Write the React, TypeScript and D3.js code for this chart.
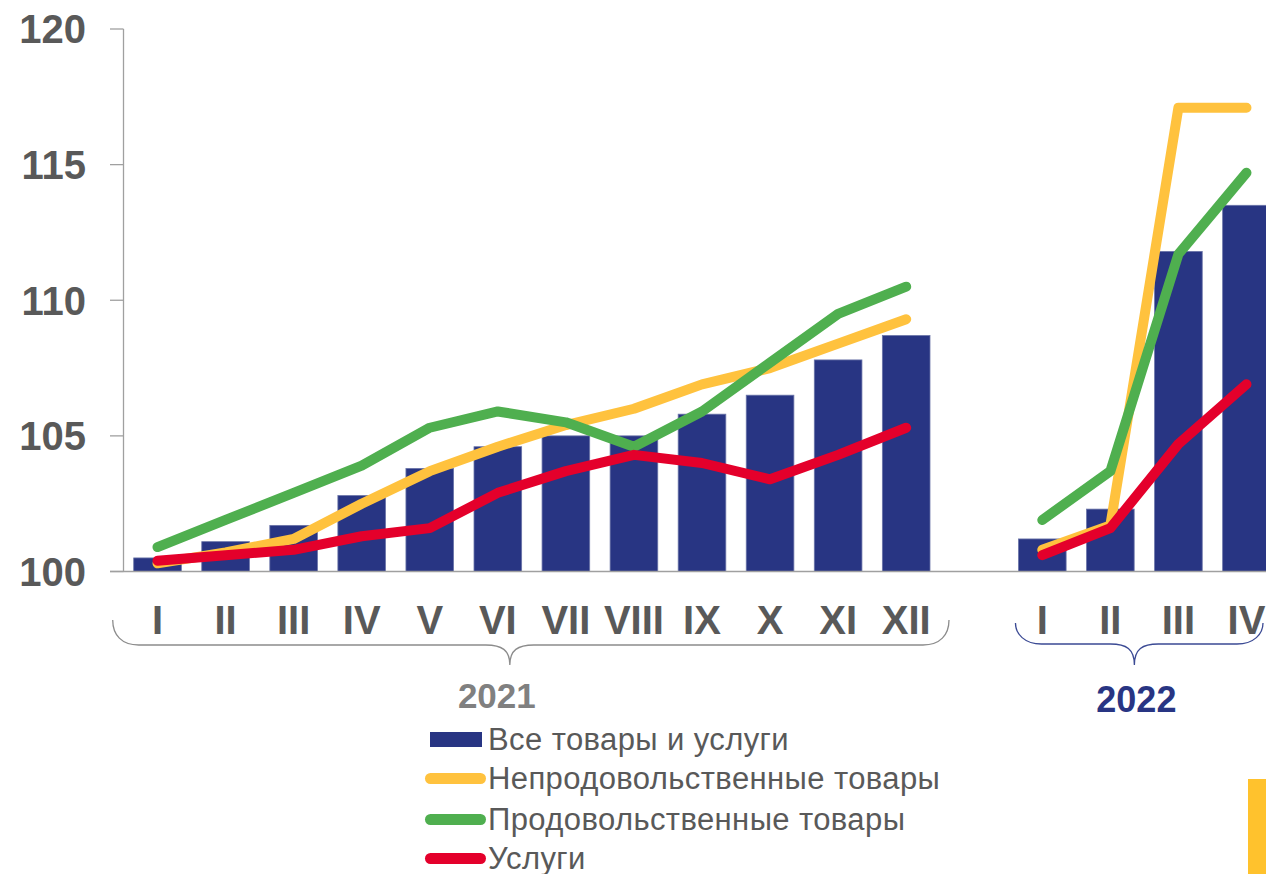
import React from "react";
import * as d3 from "d3";

// months (roman numerals) per year
const months2021 = ["I", "II", "III", "IV", "V", "VI", "VII", "VIII", "IX", "X", "XI", "XII"];
const months2022 = ["I", "II", "III", "IV"];

// index values, same month of previous year = 100
const allGoods2021 = [100.5, 101.1, 101.7, 102.8, 103.8, 104.6, 105.0, 105.0, 105.8, 106.5, 107.8, 108.7];
const allGoods2022 = [101.2, 102.3, 111.8, 113.5];
const nonFood2021 = [100.3, 100.7, 101.2, 102.5, 103.7, 104.6, 105.4, 106.0, 106.9, 107.5, 108.4, 109.3];
const nonFood2022 = [100.8, 101.7, 117.1, 117.1];
const food2021 = [100.9, 101.9, 102.9, 103.9, 105.3, 105.9, 105.5, 104.6, 105.9, 107.7, 109.5, 110.5];
const food2022 = [101.9, 103.7, 111.7, 114.7];
const services2021 = [100.4, 100.6, 100.8, 101.3, 101.6, 102.9, 103.7, 104.3, 104.0, 103.4, 104.3, 105.3];
const services2022 = [100.6, 101.6, 104.7, 106.9];

const yTicks = [100, 105, 110, 115, 120];
const years = ["2021", "2022"];
const legendLabels = [
  "Все товары и услуги",
  "Непродовольственные товары",
  "Продовольственные товары",
  "Услуги",
];

const NAVY = "#283583";
const YELLOW = "#FFC23E";
const GREEN = "#4FAF4F";
const RED = "#E4002B";
const GRAY = "#595959";
const FONT = "'Liberation Sans', Arial, sans-serif";

const keys2021 = months2021.map((m) => "2021-" + m);
const keys2022 = months2022.map((m) => "2022-" + m);
const domain = [...keys2021, "gap", ...keys2022];

export default function App() {
  const x = d3.scaleBand<string>().domain(domain).range([123.5, 1280.5]).paddingInner(0.3).paddingOuter(0.15);
  const y = d3.scaleLinear().domain([100, 120]).range([571.5, 29]);
  const cx = (k: string) => (x(k) ?? 0) + x.bandwidth() / 2;

  const line = d3
    .line<[string, number]>()
    .x((d) => cx(d[0]))
    .y((d) => y(d[1]));

  const zip = (ks: string[], vs: number[]) => ks.map((k, i) => [k, vs[i]] as [string, number]);

  const bars = [...zip(keys2021, allGoods2021), ...zip(keys2022, allGoods2022)];
  const series = [
    { color: YELLOW, parts: [zip(keys2021, nonFood2021), zip(keys2022, nonFood2022)] },
    { color: GREEN, parts: [zip(keys2021, food2021), zip(keys2022, food2022)] },
    { color: RED, parts: [zip(keys2021, services2021), zip(keys2022, services2022)] },
  ];

  // curly braces under each year
  const brace = (x0: number, x1: number, m: number, top: number, mid: number, tip: number) =>
    `M${x0},${top} C${x0},${mid - 10} ${x0 + 9},${mid} ${x0 + 26},${mid} L${m - 24},${mid} C${m - 8},${mid} ${m},${mid + 5} ${m},${tip} C${m},${mid + 5} ${m + 8},${mid} ${m + 24},${mid} L${x1 - 26},${mid} C${x1 - 9},${mid} ${x1},${mid - 10} ${x1},${top}`;
  const b21x0 = (x(keys2021[0]) ?? 0) - 21;
  const b21x1 = (x(keys2021[11]) ?? 0) + x.bandwidth() + 19;
  const b21m = cx(keys2021[5]) + 12;
  const b22x0 = (x(keys2022[0]) ?? 0) - 3;
  const b22x1 = 1263;
  const b22m = (cx(keys2022[1]) + cx(keys2022[2])) / 2 - 10;

  const legendY = [750, 788.5, 829.5, 868.5];

  return (
    <svg
      width={1266}
      height={874}
      style={{ position: "absolute", left: 0, top: 0, background: "#fff" }}
      fontFamily={FONT}
    >
      {/* y axis */}
      <line x1={123.5} x2={123.5} y1={y(120)} y2={y(100)} stroke="#a0a0a0" strokeWidth={1.3} />
      {yTicks.map((t) => (
        <g key={t}>
          <line x1={110} x2={123.5} y1={y(t)} y2={y(t)} stroke="#a0a0a0" strokeWidth={1.3} />
          <text x={86} y={y(t)} dy="0.36em" textAnchor="end" fontSize={40} fontWeight="bold" fill={GRAY}>
            {t}
          </text>
        </g>
      ))}

      {/* bars */}
      {bars.map(([k, v]) => (
        <rect
          key={k}
          x={x(k)}
          y={y(v)}
          width={x.bandwidth()}
          height={y(100) - y(v)}
          fill={NAVY}
          stroke="#6a74a8"
          strokeWidth={0.8}
        />
      ))}

      {/* baseline */}
      <line x1={110} x2={1266} y1={y(100)} y2={y(100)} stroke="#a0a0a0" strokeWidth={1.3} />

      {/* lines */}
      {series.map((s, i) =>
        s.parts.map((p, j) => (
          <path
            key={i + "-" + j}
            d={line(p) ?? ""}
            fill="none"
            stroke={s.color}
            strokeWidth={10}
            strokeLinecap="round"
            strokeLinejoin="round"
          />
        ))
      )}

      {/* month labels */}
      {[...keys2021, ...keys2022].map((k) => (
        <text key={k} x={cx(k)} y={634} textAnchor="middle" fontSize={40} fontWeight="bold" fill={GRAY}>
          {k.split("-")[1]}
        </text>
      ))}

      {/* year braces */}
      <path d={brace(b21x0, b21x1, b21m, 620, 645, 665)} fill="none" stroke="#8c8c8c" strokeWidth={1.3} />
      <path d={brace(b22x0, b22x1, b22m, 623, 644, 665)} fill="none" stroke="#3b4a94" strokeWidth={1.3} />
      <text x={b21m - 13} y={708} textAnchor="middle" fontSize={35} fontWeight="bold" fill="#808080">
        {years[0]}
      </text>
      <text x={b22m + 2} y={712} textAnchor="middle" fontSize={36} fontWeight="bold" fill={NAVY}>
        {years[1]}
      </text>

      {/* legend */}
      <rect x={430} y={732} width={52} height={15} fill={NAVY} />
      {[YELLOW, GREEN, RED].map((c, i) => (
        <line
          key={c}
          x1={430.5}
          x2={480.5}
          y1={legendY[i + 1] - 10}
          y2={legendY[i + 1] - 10}
          stroke={c}
          strokeWidth={11}
          strokeLinecap="round"
        />
      ))}
      {legendLabels.map((l, i) => (
        <text key={l} x={488} y={legendY[i]} fontSize={31} letterSpacing={0.4} fill={GRAY}>
          {l}
        </text>
      ))}

      {/* decorative block bottom right */}
      <rect x={1248} y={779} width={18} height={95} fill="#FFC22D" />
    </svg>
  );
}
